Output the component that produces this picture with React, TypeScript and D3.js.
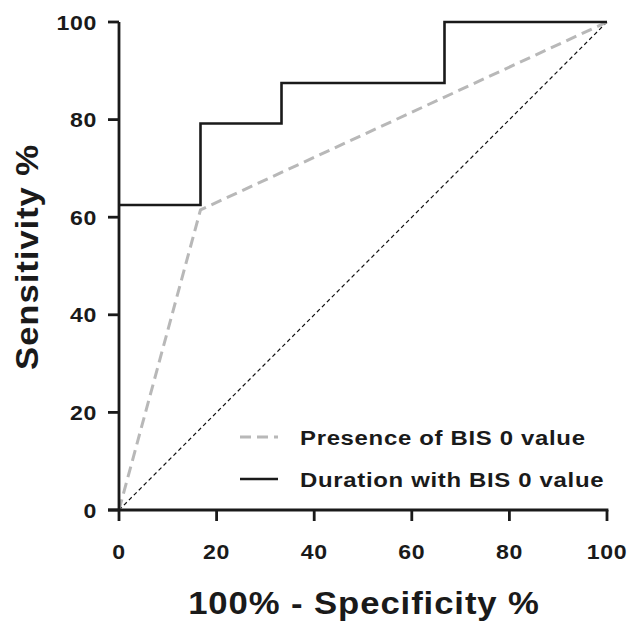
import React from "react";
import * as d3 from "d3";

const xTicks = [0, 20, 40, 60, 80, 100];
const yTicks = [0, 20, 40, 60, 80, 100];
const durationX = [0, 16.7, 16.7, 33.3, 33.3, 66.7, 66.7, 100];
const durationY = [62.5, 62.5, 79.2, 79.2, 87.5, 87.5, 100, 100];
const presenceX = [0, 16.7, 100];
const presenceY = [0, 61.5, 100];
const diagX = [0, 100];
const diagY = [0, 100];
const legendLabels = ["Presence of BIS 0 value", "Duration with BIS 0 value"];

export default function App() {
  const W = 631, H = 623;
  const x = d3.scaleLinear().domain([0, 100]).range([119, 607]);
  const y = d3.scaleLinear().domain([0, 100]).range([510, 22]);
  const line = d3.line<[number, number]>().x(d => x(d[0])).y(d => y(d[1]));
  const zip = (a: number[], b: number[]) => a.map((v, i) => [v, b[i]] as [number, number]);
  const font = "Liberation Sans, Arial, sans-serif";
  const ink = "#1a1a1a";
  return (
    <svg width={W} height={H} style={{ position: "absolute", left: 0, top: 0 }}>
      <rect width={W} height={H} fill="#fff" />
      <path d={line(zip(diagX, diagY))!} fill="none" stroke="#111" strokeWidth={1.2} strokeDasharray="4,3" />
      <path d={line(zip(presenceX, presenceY))!} fill="none" stroke="#b8b8b8" strokeWidth={3} strokeDasharray="11,6" />
      <path d={line(zip(durationX, durationY))!} fill="none" stroke={ink} strokeWidth={2.6} />
      {/* axes */}
      <line x1={x(0)} x2={x(0)} y1={y(100)} y2={y(0)} stroke={ink} strokeWidth={2.8} />
      <line x1={x(0) - 11} x2={x(100) + 1.4} y1={y(0)} y2={y(0)} stroke={ink} strokeWidth={2.8} />
      {yTicks.map(t => (
        <g key={"y" + t}>
          <line x1={x(0) - 11} x2={x(0)} y1={y(t)} y2={y(t)} stroke={ink} strokeWidth={2.8} />
          <g transform={`translate(97,${y(t)}) scale(1.1,1)`}>
            <text x={0} y={0} dy="0.36em" textAnchor="end" fontFamily={font} fontWeight="bold" fontSize={21} letterSpacing={0.6} fill={ink}>{t}</text>
          </g>
        </g>
      ))}
      {xTicks.map(t => (
        <g key={"x" + t}>
          <line x1={x(t)} x2={x(t)} y1={y(0)} y2={y(0) + 11} stroke={ink} strokeWidth={2.8} />
          <g transform={`translate(${x(t)},559) scale(1.1,1)`}>
            <text x={0} y={0} textAnchor="middle" fontFamily={font} fontWeight="bold" fontSize={21} letterSpacing={0.6} fill={ink}>{t}</text>
          </g>
        </g>
      ))}
      {/* legend */}
      <line x1={240} x2={278} y1={437} y2={437} stroke="#b8b8b8" strokeWidth={3} strokeDasharray="11,6" />
      <g transform="translate(300,437) scale(1.14,1)">
        <text x={0} y={0} dy="0.36em" fontFamily={font} fontWeight="bold" fontSize={21} letterSpacing={0.6} fill={ink}>{legendLabels[0]}</text>
      </g>
      <line x1={240} x2={278} y1={479} y2={479} stroke={ink} strokeWidth={2.6} />
      <g transform="translate(300,479) scale(1.14,1)">
        <text x={0} y={0} dy="0.36em" fontFamily={font} fontWeight="bold" fontSize={21} letterSpacing={0.6} fill={ink}>{legendLabels[1]}</text>
      </g>
      {/* titles */}
      <g transform="translate(364,614) scale(1.12,1)">
        <text x={0} y={0} textAnchor="middle" fontFamily={font} fontWeight="bold" fontSize={31} letterSpacing={0.8} fill={ink}>100% - Specificity %</text>
      </g>
      <g transform="translate(38,257) rotate(-90) scale(1.12,1)">
        <text x={0} y={0} textAnchor="middle" fontFamily={font} fontWeight="bold" fontSize={31} letterSpacing={0.8} fill={ink}>Sensitivity %</text>
      </g>
    </svg>
  );
}
